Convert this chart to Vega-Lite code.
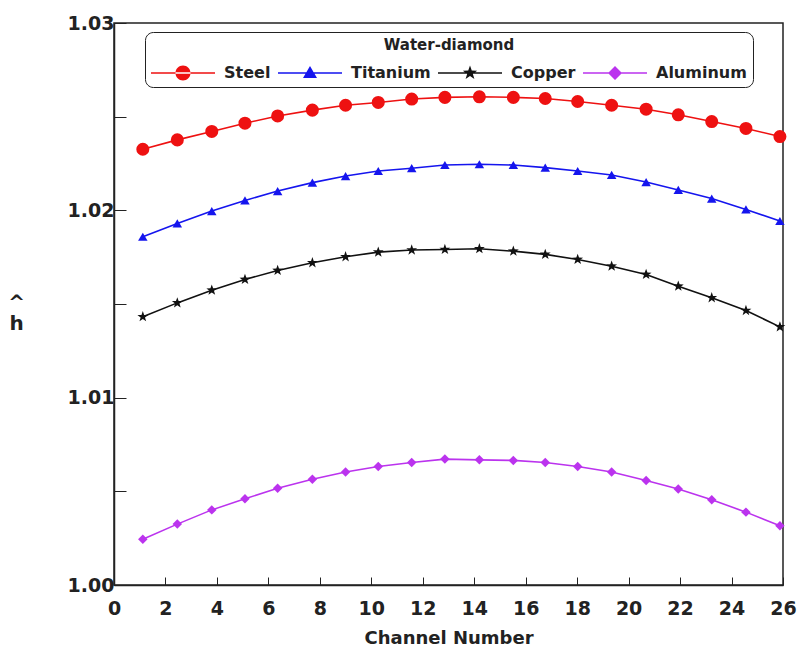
{
  "$schema": "https://vega.github.io/schema/vega-lite/v6.json",
  "width": 669,
  "height": 562,
  "autosize": "none",
  "padding": {"left": 114, "top": 23, "right": 20, "bottom": 66},
  "background": "white",
  "config": {
    "view": {"stroke": "#222", "strokeWidth": 1.5},
    "font": "DejaVu Sans"
  },
  "data": {
    "values": [
      {"channel": 1.12, "metal": "Steel", "h": 1.02326},
      {"channel": 2.46, "metal": "Steel", "h": 1.02376},
      {"channel": 3.80, "metal": "Steel", "h": 1.02421},
      {"channel": 5.09, "metal": "Steel", "h": 1.02465},
      {"channel": 6.36, "metal": "Steel", "h": 1.02504},
      {"channel": 7.71, "metal": "Steel", "h": 1.02535},
      {"channel": 9.00, "metal": "Steel", "h": 1.02561},
      {"channel": 10.27, "metal": "Steel", "h": 1.02576},
      {"channel": 11.57, "metal": "Steel", "h": 1.02594},
      {"channel": 12.86, "metal": "Steel", "h": 1.02603},
      {"channel": 14.2, "metal": "Steel", "h": 1.02606},
      {"channel": 15.52, "metal": "Steel", "h": 1.02603},
      {"channel": 16.76, "metal": "Steel", "h": 1.02597},
      {"channel": 18.02, "metal": "Steel", "h": 1.02581},
      {"channel": 19.34, "metal": "Steel", "h": 1.02561},
      {"channel": 20.68, "metal": "Steel", "h": 1.02540},
      {"channel": 21.93, "metal": "Steel", "h": 1.02510},
      {"channel": 23.23, "metal": "Steel", "h": 1.02474},
      {"channel": 24.56, "metal": "Steel", "h": 1.02437},
      {"channel": 25.88, "metal": "Steel", "h": 1.02394},
      {"channel": 1.12, "metal": "Titanium", "h": 1.01859},
      {"channel": 2.46, "metal": "Titanium", "h": 1.01930},
      {"channel": 3.80, "metal": "Titanium", "h": 1.01996},
      {"channel": 5.09, "metal": "Titanium", "h": 1.02053},
      {"channel": 6.36, "metal": "Titanium", "h": 1.02103},
      {"channel": 7.71, "metal": "Titanium", "h": 1.02148},
      {"channel": 9.00, "metal": "Titanium", "h": 1.02183},
      {"channel": 10.27, "metal": "Titanium", "h": 1.02210},
      {"channel": 11.57, "metal": "Titanium", "h": 1.02225},
      {"channel": 12.86, "metal": "Titanium", "h": 1.02242},
      {"channel": 14.2, "metal": "Titanium", "h": 1.02246},
      {"channel": 15.52, "metal": "Titanium", "h": 1.02242},
      {"channel": 16.76, "metal": "Titanium", "h": 1.02228},
      {"channel": 18.02, "metal": "Titanium", "h": 1.02210},
      {"channel": 19.34, "metal": "Titanium", "h": 1.02189},
      {"channel": 20.68, "metal": "Titanium", "h": 1.02151},
      {"channel": 21.93, "metal": "Titanium", "h": 1.02109},
      {"channel": 23.23, "metal": "Titanium", "h": 1.02063},
      {"channel": 24.56, "metal": "Titanium", "h": 1.02005},
      {"channel": 25.88, "metal": "Titanium", "h": 1.01943},
      {"channel": 1.12, "metal": "Copper", "h": 1.01432},
      {"channel": 2.46, "metal": "Copper", "h": 1.01506},
      {"channel": 3.80, "metal": "Copper", "h": 1.01574},
      {"channel": 5.09, "metal": "Copper", "h": 1.01631},
      {"channel": 6.36, "metal": "Copper", "h": 1.01679},
      {"channel": 7.71, "metal": "Copper", "h": 1.01720},
      {"channel": 9.00, "metal": "Copper", "h": 1.01752},
      {"channel": 10.27, "metal": "Copper", "h": 1.01777},
      {"channel": 11.57, "metal": "Copper", "h": 1.01788},
      {"channel": 12.86, "metal": "Copper", "h": 1.01791},
      {"channel": 14.2, "metal": "Copper", "h": 1.01795},
      {"channel": 15.52, "metal": "Copper", "h": 1.01782},
      {"channel": 16.76, "metal": "Copper", "h": 1.01765},
      {"channel": 18.02, "metal": "Copper", "h": 1.01738},
      {"channel": 19.34, "metal": "Copper", "h": 1.01702},
      {"channel": 20.68, "metal": "Copper", "h": 1.01658},
      {"channel": 21.93, "metal": "Copper", "h": 1.01595},
      {"channel": 23.23, "metal": "Copper", "h": 1.01533},
      {"channel": 24.56, "metal": "Copper", "h": 1.01465},
      {"channel": 25.88, "metal": "Copper", "h": 1.01378},
      {"channel": 1.12, "metal": "Aluminum", "h": 1.00244},
      {"channel": 2.46, "metal": "Aluminum", "h": 1.00325},
      {"channel": 3.80, "metal": "Aluminum", "h": 1.00401},
      {"channel": 5.09, "metal": "Aluminum", "h": 1.00460},
      {"channel": 6.36, "metal": "Aluminum", "h": 1.00517},
      {"channel": 7.71, "metal": "Aluminum", "h": 1.00565},
      {"channel": 9.00, "metal": "Aluminum", "h": 1.00603},
      {"channel": 10.27, "metal": "Aluminum", "h": 1.00633},
      {"channel": 11.57, "metal": "Aluminum", "h": 1.00654},
      {"channel": 12.86, "metal": "Aluminum", "h": 1.00672},
      {"channel": 14.2, "metal": "Aluminum", "h": 1.00668},
      {"channel": 15.52, "metal": "Aluminum", "h": 1.00665},
      {"channel": 16.76, "metal": "Aluminum", "h": 1.00654},
      {"channel": 18.02, "metal": "Aluminum", "h": 1.00633},
      {"channel": 19.34, "metal": "Aluminum", "h": 1.00603},
      {"channel": 20.68, "metal": "Aluminum", "h": 1.00558},
      {"channel": 21.93, "metal": "Aluminum", "h": 1.00513},
      {"channel": 23.23, "metal": "Aluminum", "h": 1.00455},
      {"channel": 24.56, "metal": "Aluminum", "h": 1.00389},
      {"channel": 25.88, "metal": "Aluminum", "h": 1.00316}
    ]
  },
  "encoding": {
    "x": {
      "field": "channel",
      "type": "quantitative",
      "scale": {"domain": [0, 26], "nice": false, "zero": false},
      "axis": {
        "title": "Channel Number",
        "values": [0, 2, 4, 6, 8, 10, 12, 14, 16, 18, 20, 22, 24, 26],
        "grid": false,
        "tickSize": -8,
        "tickColor": "#222",
        "domainColor": "#222",
        "domainWidth": 1.5,
        "labelFont": "DejaVu Sans",
        "labelFontSize": 19,
        "labelFontWeight": "bold",
        "labelColor": "#222",
        "labelPadding": 22,
        "labelFlush": false,
        "titleFont": "DejaVu Sans",
        "titleFontSize": 18,
        "titleFontWeight": "bold",
        "titleColor": "#222",
        "titlePadding": 11
      }
    },
    "y": {
      "field": "h",
      "type": "quantitative",
      "scale": {"domain": [1.0, 1.03], "nice": false, "zero": false},
      "axis": {
        "title": ["^", "h"],
        "titleAngle": 0,
        "titleAlign": "center",
        "titleBaseline": "middle",
        "titleX": -98,
        "titleY": 279,
        "titleFont": "DejaVu Sans",
        "titleFontSize": 20,
        "titleFontWeight": "bold",
        "titleColor": "#222",
        "titleLineHeight": 21,
        "values": [1.0, 1.005, 1.01, 1.015, 1.02, 1.025, 1.03],
        "labelExpr": "round(datum.value * 1000) % 10 == 0 ? format(datum.value, '.2f') : ''",
        "grid": false,
        "tickSize": -12,
        "tickColor": "#222",
        "domainColor": "#222",
        "domainWidth": 1.5,
        "labelFont": "DejaVu Sans",
        "labelFontSize": 19,
        "labelFontWeight": "bold",
        "labelColor": "#222",
        "labelPadding": 12,
        "labelFlush": false
      }
    }
  },
  "layer": [
    {
      "mark": {"type": "point", "filled": true, "opacity": 0, "size": 400},
      "encoding": {
        "color": {
          "field": "metal",
          "type": "nominal",
          "scale": {
            "domain": ["Steel", "Titanium", "Copper", "Aluminum"],
            "range": ["#ee1111", "#1515ee", "#111111", "#bb33ee"]
          },
          "legend": {
            "orient": "none",
            "legendX": 31,
            "legendY": 9,
            "direction": "horizontal",
            "columns": 4,
            "title": "Water-diamond",
            "titleAnchor": "middle",
            "titleFont": "DejaVu Sans",
            "titleFontSize": 15,
            "titleFontWeight": "bold",
            "titleColor": "#222",
            "titlePadding": 10,
            "labelFont": "DejaVu Sans",
            "labelFontSize": 16,
            "labelFontWeight": "bold",
            "labelColor": "#222",
            "labelOffset": 53,
            "columnPadding": 7,
            "symbolSize": 400,
            "symbolStrokeWidth": 0,
            "symbolOpacity": 1,
            "strokeColor": "#222",
            "cornerRadius": 8,
            "padding": 6,
            "fillColor": "white"
          }
        },
        "shape": {
          "field": "metal",
          "type": "nominal",
          "scale": {
            "domain": ["Steel", "Titanium", "Copper", "Aluminum"],
            "range": [
              "M-1,-0.08H5.4V0.08H-1ZM1.45,0A0.75,0.75 0 1,0 2.95,0A0.75,0.75 0 1,0 1.45,0Z",
              "M-1,-0.08H5.4V0.08H-1ZM2.2,-0.7L2.9,0.5L1.5,0.5Z",
              "M-1,-0.08H5.4V0.08H-1ZM2.2,-0.75L2.376,-0.243L2.913,-0.232L2.485,0.093L2.641,0.607L2.2,0.3L1.759,0.607L1.915,0.093L1.487,-0.232L2.024,-0.243Z",
              "M-1,-0.08H5.4V0.08H-1ZM2.2,-0.7L2.9,0L2.2,0.7L1.5,0Z"
            ]
          },
          "legend": {
            "orient": "none",
            "legendX": 31,
            "legendY": 9,
            "direction": "horizontal",
            "columns": 4,
            "title": "Water-diamond",
            "symbolSize": 400,
            "symbolStrokeWidth": 0,
            "symbolOpacity": 1
          }
        }
      }
    },
    {
      "mark": {"type": "line", "strokeWidth": 1.6},
      "encoding": {
        "color": {"field": "metal", "type": "nominal", "legend": null}
      }
    },
    {
      "transform": [{"filter": "datum.metal === 'Steel'"}],
      "mark": {"type": "point", "filled": true, "opacity": 1, "shape": "circle", "size": 170},
      "encoding": {"color": {"field": "metal", "type": "nominal", "legend": null}}
    },
    {
      "transform": [{"filter": "datum.metal === 'Titanium'"}],
      "mark": {"type": "point", "filled": true, "opacity": 1, "shape": "triangle-up", "size": 90},
      "encoding": {"color": {"field": "metal", "type": "nominal", "legend": null}}
    },
    {
      "transform": [{"filter": "datum.metal === 'Copper'"}],
      "mark": {"type": "point", "filled": true, "opacity": 1, "shape": "M0,-1L0.235,-0.324L0.951,-0.309L0.380,0.124L0.588,0.809L0,0.4L-0.588,0.809L-0.380,0.124L-0.951,-0.309L-0.235,-0.324Z", "size": 130},
      "encoding": {"color": {"field": "metal", "type": "nominal", "legend": null}}
    },
    {
      "transform": [{"filter": "datum.metal === 'Aluminum'"}],
      "mark": {"type": "point", "filled": true, "opacity": 1, "shape": "diamond", "size": 90},
      "encoding": {"color": {"field": "metal", "type": "nominal", "legend": null}}
    }
  ]
}
